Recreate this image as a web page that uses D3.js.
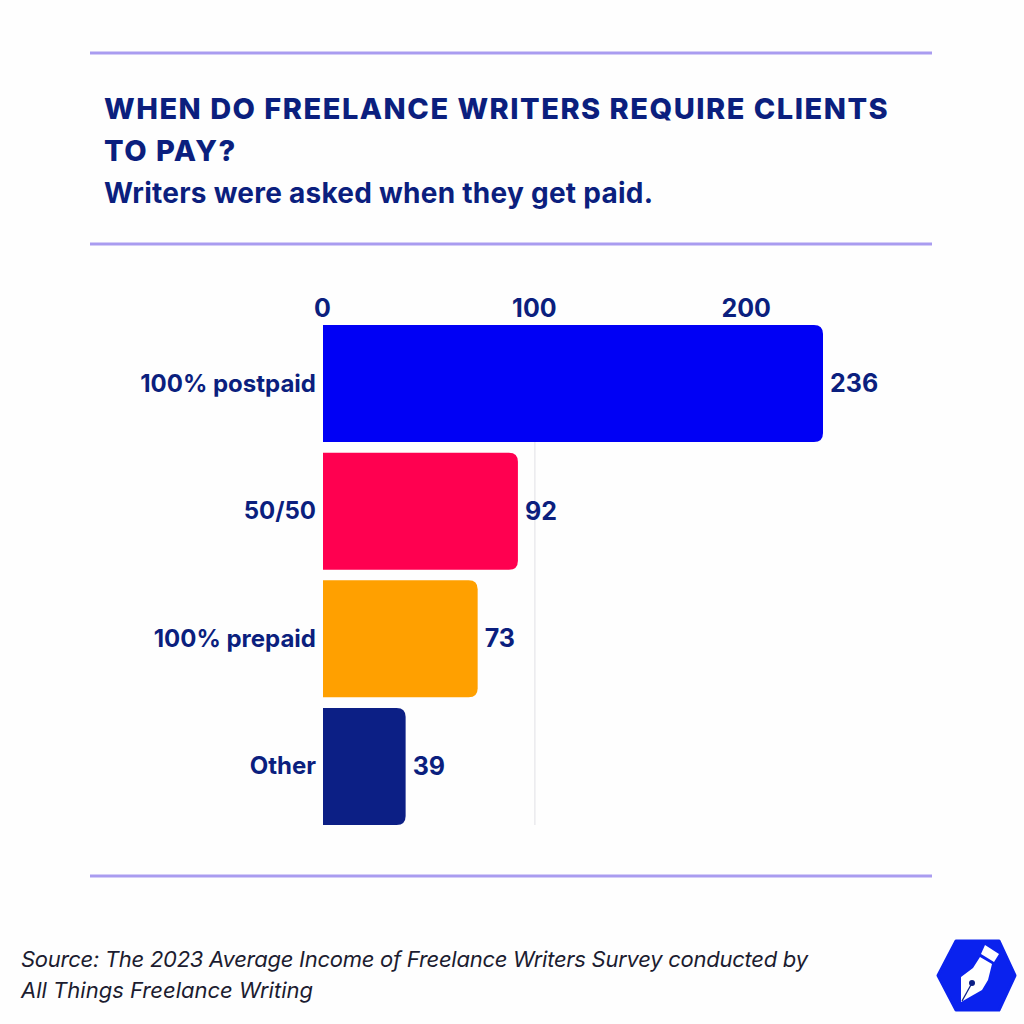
<!DOCTYPE html>
<html><head><meta charset="utf-8">
<script src="https://cdn.jsdelivr.net/npm/d3@7"></script>
<style>
html,body{margin:0;padding:0;background:#fefefe}
svg{display:block}
text{font-family:Inter,"Open Sans",sans-serif;fill:#0b1f7e}
</style></head><body>
<svg id="c" width="1024" height="1024"></svg>
<script>
const categories=["100% postpaid","50/50","100% prepaid","Other"];
const values=[236,92,73,39];
const colors=["#0000f5","#ff0050","#ffa000","#0c1f85"];
const tickValues=[0,100,200];
const gridValues=[100];
const titleLines=["WHEN DO FREELANCE WRITERS REQUIRE CLIENTS","TO PAY?"];
const subtitle="Writers were asked when they get paid.";
const sourceLines=["Source: The 2023 Average Income of Freelance Writers Survey conducted by","All Things Freelance Writing"];
const sourceWidths=[787,292];

const svg=d3.select("#c");
const x=d3.scaleLinear().domain([0,236]).range([323,823]);
const y=d3.scaleBand().domain(categories).range([325,825]).paddingInner(0.0835).paddingOuter(0);

svg.selectAll("line.rule").data([53,244,876]).join("line").attr("class","rule")
 .attr("x1",90).attr("x2",932).attr("y1",d=>d).attr("y2",d=>d)
 .attr("stroke","#a99cf0").attr("stroke-width",3);

svg.selectAll("text.title").data(titleLines).join("text").attr("class","title")
 .attr("x",104).attr("y",(d,i)=>119+i*42)
 .attr("font-size",29).attr("font-weight",800).attr("letter-spacing",1.5).text(d=>d);
svg.append("text").attr("x",104).attr("y",203).attr("font-size",28).attr("font-weight",700).attr("letter-spacing",0.25).text(subtitle);

svg.selectAll("line.grid").data(gridValues).join("line").attr("class","grid")
 .attr("x1",d=>x(d)).attr("x2",d=>x(d)).attr("y1",325).attr("y2",825)
 .attr("stroke","#e6e6ea").attr("stroke-width",1.2);

const axis=svg.append("g").attr("transform","translate(-1,317)")
 .call(d3.axisTop(x).tickValues(tickValues).tickSize(0).tickPadding(0).tickFormat(d3.format("d")));
axis.select(".domain").remove();
axis.selectAll("text").attr("font-size",25).attr("font-weight",700).attr("font-family","Inter").attr("fill","#0b1f7e");

function barPath(d,i){
 const x0=x(0),x1=x(values[i]),y0=y(categories[i]),y1=y0+y.bandwidth(),r=9;
 return `M${x0},${y0}H${x1-r}Q${x1},${y0} ${x1},${y0+r}V${y1-r}Q${x1},${y1} ${x1-r},${y1}H${x0}Z`;
}
svg.selectAll("path.bar").data(values).join("path").attr("class","bar")
 .attr("d",barPath).attr("fill",(d,i)=>colors[i]);

svg.selectAll("text.val").data(values).join("text").attr("class","val")
 .attr("x",d=>x(d)+7).attr("y",(d,i)=>y(categories[i])+y.bandwidth()/2+8.5)
 .attr("font-size",25).attr("font-weight",700).text(d=>d);

svg.selectAll("text.cat").data(categories).join("text").attr("class","cat")
 .attr("x",316).attr("y",d=>y(d)+y.bandwidth()/2+8).attr("text-anchor","end")
 .attr("font-size",24).attr("font-weight",700).text(d=>d);

svg.selectAll("text.src").data(sourceLines).join("text").attr("class","src")
 .attr("x",21).attr("y",(d,i)=>967+i*31)
 .attr("font-size",22).attr("font-style","italic").attr("font-weight",400)
 .attr("textLength",(d,i)=>sourceWidths[i]).attr("lengthAdjust","spacing")
 .style("fill","#1c1c30").text(d=>d);

const logo=svg.append("g");
logo.append("path").attr("d","M956,941H999L1015,975.5L999,1010H956L938,975.5Z")
 .attr("fill","#0a22ee").attr("stroke","#0a22ee").attr("stroke-width",3).attr("stroke-linejoin","round");
logo.append("path").attr("d","M985,945L999,954L994,962L981,954Z").attr("fill","#fff");
logo.append("path").attr("d","M980,957L992,964L988,980L982,990L961,1002L961,977L973,968Z").attr("fill","#fff");
logo.append("circle").attr("cx",972).attr("cy",983).attr("r",3).attr("fill","#0c1f85");
logo.append("line").attr("x1",972).attr("y1",983).attr("x2",962).attr("y2",1001).attr("stroke","#0c1f85").attr("stroke-width",1.3);
</script>
</body></html>
